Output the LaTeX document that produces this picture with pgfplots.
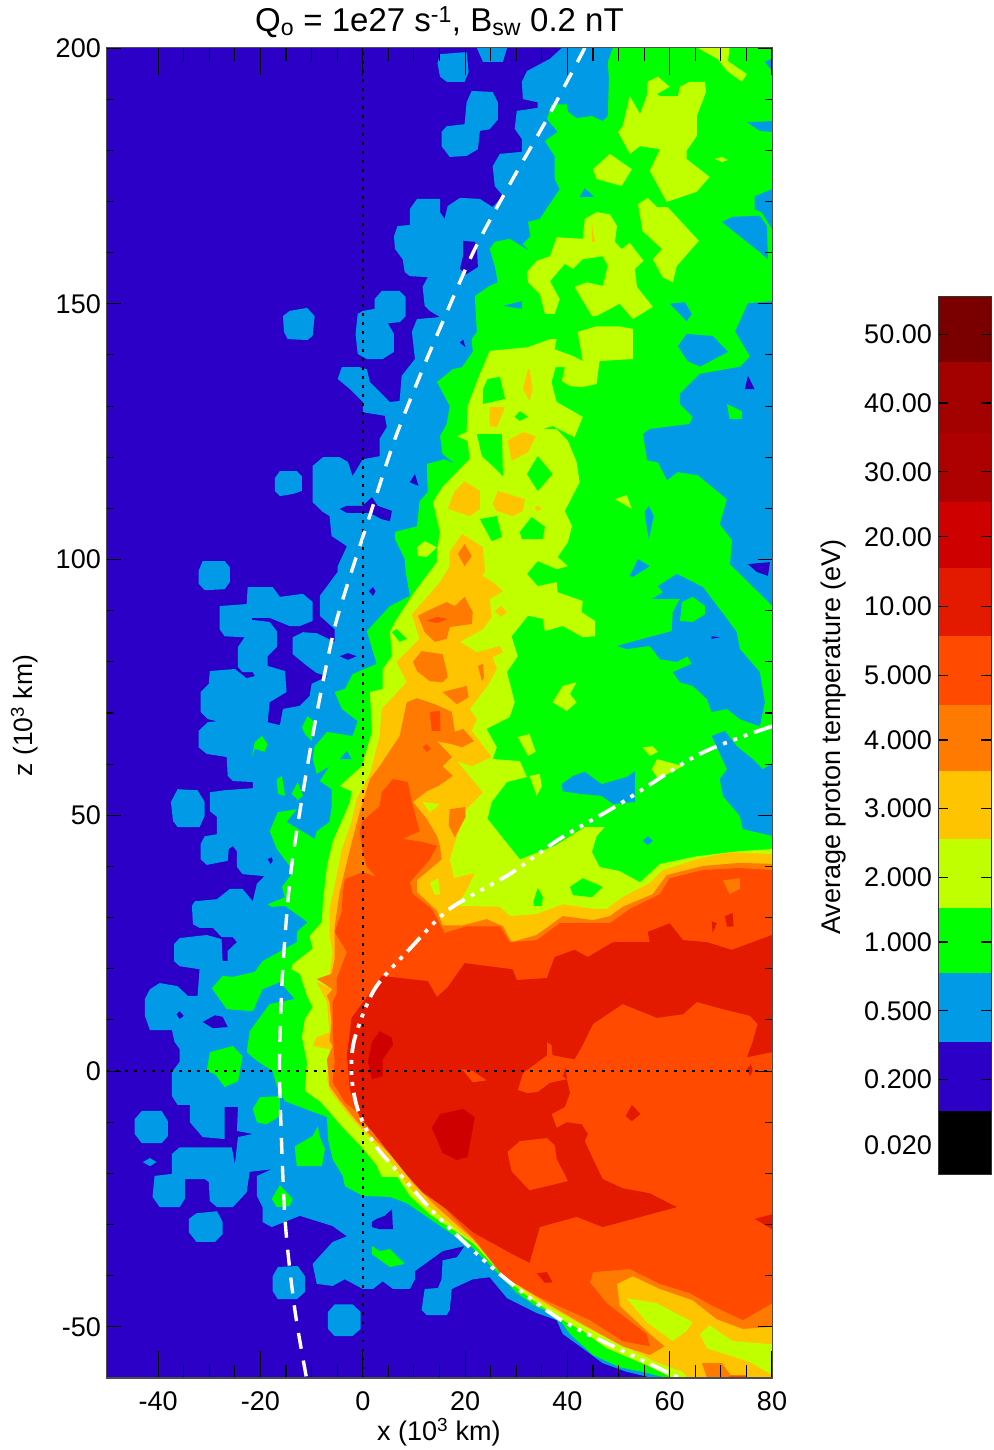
\documentclass[border=0pt]{standalone}
\usepackage{fontspec}
\setmainfont{Liberation Sans}
\usepackage{pgfplots}
\pgfplotsset{compat=1.18}
\definecolor{cP}{HTML}{2D00C8}
\definecolor{cB}{HTML}{009AE6}
\definecolor{cG}{HTML}{00FF00}
\definecolor{cY}{HTML}{BFFF00}
\definecolor{cA}{HTML}{FFC400}
\definecolor{cO}{HTML}{FF7A00}
\definecolor{cR}{HTML}{FF4A00}
\definecolor{cE}{HTML}{E31A00}
\definecolor{cD}{HTML}{CF0000}
\definecolor{cK}{HTML}{AD0000}
\definecolor{cL}{HTML}{A30000}
\definecolor{cM}{HTML}{7A0000}
\pgfplotsset{p/.style={fill=#1,draw=none,mark=none,forget plot,line width=0pt}}
\begin{document}
\fontsize{27}{32}\selectfont
\begin{tikzpicture}
\useasboundingbox (-107pt,-72pt) rectangle (886pt,1378pt);
\begin{axis}[name=main,scale only axis,width=665pt,height=1330pt,
 xmin=-50,xmax=80,ymin=-60,ymax=200,axis on top,
 xtick={-40,-20,0,20,40,60,80},minor x tick num=3,ytick=\empty,
 tick align=inside,xtick pos=both,major tick length=27pt,minor tick length=13pt,
 tick style={black,line width=1.1pt},axis line style={draw=black!70,line width=1pt},
 /pgf/number format/assume math mode=true,
 xticklabel style={font=\fontsize{27}{32}\selectfont,inner sep=0pt,yshift=-13pt},
 xlabel={x (10\textsuperscript{3} km)},
 every axis x label/.style={at={(axis description cs:0.499,-0.041)},anchor=center,font=\fontsize{27}{32}\selectfont},
 title={Q\textsubscript{o} = 1e27 s\textsuperscript{-1}, B\textsubscript{sw} 0.2 nT},
 every axis title/.style={at={(axis description cs:0.5,1.0195)},anchor=center,font=\fontsize{33}{38}\selectfont}]
% background level
\addplot[p=cP] coordinates {(-50,-60)(80,-60)(80,200)(-50,200)} --cycle;
% level 0.5
\addplot[p=cB] coordinates {(38.9,200)(36.6,197.9)(32.1,195.5)(31.1,193.4)(31.3,190)(34.2,189.4)(34.2,188.3)(30.1,187.7)(29.7,184.2)(31.1,182.2)(31.1,179.7)(26.8,179.3)(25.4,176.9)(25.8,173)(27.4,171.1)(25.4,168.9)(22.9,170.5)(19,170.7)(16.6,169.1)(16,166.6)(15.1,167.9)(15.1,170.5)(10.6,170.5)(9.2,168.5)(9.2,165.4)(6.8,165.2)(6.1,163.2)(6.3,160.7)(7.8,158.7)(8.2,156.2)(9.2,155.4)(12.7,155.2)(11.7,153.3)(12.1,149.6)(13.1,148.6)(15.1,147.4)(10.6,147)(9.6,144.5)(10.2,139.2)(7.6,135.9)(7.2,131)(5.3,130.8)(1.4,134.7)(0.8,137.2)(-0.6,137.6)(-4.1,137.6)(-4.9,135.3)(-2.5,133.3)(0,130.8)(0,128.8)(4.3,128.1)(4.7,125.9)(3.3,123.6)(3.3,120.2)(0,119.6)(-2,116.3)(-2.9,119.1)(-4.5,120)(-7.8,120)(-9.8,118.3)(-9.8,111.2)(-7.8,109.3)(-6.5,108.5)(-6.1,104.6)(-3.1,102.6)(-4.9,98.7)(-4.9,97.6)(-8.4,92.9)(-8.4,89)(-5.5,86.4)(-5.5,83.9)(-9,85.6)(-11.7,85.8)(-13.7,84.8)(-13.7,81.5)(-10.9,79.2)(-9,77.8)(-6.8,77.2)(-10,75.7)(-10.4,73.3)(-12.3,71.4)(-15.6,70.8)(-16.2,67.6)(-18.6,68.2)(-18.2,72.1)(-14.9,74.1)(-15.2,78.2)(-18.6,79.2)(-18.6,81.1)(-16.8,82.9)(-16.8,86)(-18.2,87.8)(-21.7,88.2)(-21.7,88.6)(-18.2,88.6)(-14.3,87)(-12.3,87)(-9.8,88)(-9.8,91.7)(-11.7,93.3)(-16.2,92.7)(-17.6,94.6)(-22.5,94.6)(-22.7,91.3)(-28,90.9)(-28,86.4)(-27,85)(-23.1,84.8)(-24.4,82.9)(-24.4,79)(-23.5,78)(-21.5,78)(-21.1,77.2)(-22.7,76.8)(-25,78.6)(-29.9,78.2)(-30.1,75.7)(-31.7,74.1)(-31.7,70.2)(-30.3,68.8)(-28.5,68.4)(-30.3,68.2)(-32.1,66.5)(-32.1,63.3)(-30.5,62)(-26.6,61.4)(-26.4,57.7)(-25.4,56.7)(-21.5,56.5)(-21.5,55.3)(-27,54.9)(-29.9,54.5)(-29.9,50.8)(-28.5,49.7)(-28.5,46.3)(-30.9,45.9)(-31.7,44.4)(-31.7,41.4)(-30.5,40.3)(-26.4,41.1)(-26.2,43.4)(-25.4,44)(-24.6,43)(-24.6,39.9)(-23.5,38.5)(-19.2,38.1)(-20.7,36.6)(-21.5,33.2)(-23.5,35.6)(-26,35.6)(-28.5,33.6)(-32.8,33.2)(-33.4,32.3)(-33.2,28.7)(-31.9,28)(-29.3,28)(-27.6,26.2)(-25.4,26.2)(-24.6,25.2)(-26.4,23.5)(-26.4,21.5)(-27.4,21.5)(-27.6,25.8)(-30.5,26.6)(-35.8,26)(-36.9,24.8)(-36.9,21.5)(-35.8,20.5)(-31.9,19.9)(-32.3,14.7)(-34.2,14.7)(-36.2,16.6)(-39.7,17.2)(-41.6,16)(-42.6,14.1)(-42.6,10.8)(-41.6,8)(-37.3,8)(-36.8,5.7)(-35.8,4.3)(-35.8,1.8)(-37.3,-0.2)(-37.3,-4.9)(-36.2,-6.6)(-33.8,-6.6)(-33.8,-10)(-31.3,-12.9)(-27,-13.3)(-27,-7)(-24.4,-7)(-24.6,-11.7)(-21.5,-12.3)(-24.4,-12.9)(-25,-18.2)(-25.6,-14.9)(-35.8,-14.9)(-37.3,-16.2)(-37.3,-20.1)(-40.7,-20.5)(-41.1,-24.6)(-39.7,-26.6)(-35.8,-26.6)(-34.8,-25)(-34.8,-21.1)(-30.9,-21.1)(-30.1,-21.7)(-29.9,-25.4)(-28.5,-26.6)(-25.4,-26.6)(-22.7,-23.7)(-22.1,-19.7)(-17.8,-19.2)(-20.7,-20.5)(-20.7,-24.4)(-19.6,-26.6)(-19.6,-29.5)(-17.8,-30.5)(-12.3,-28.3)(-5.9,-30.3)(-3.1,-32.3)(-5.9,-33.4)(-9.8,-37.7)(-9,-41.6)(-5.9,-42)(-3.5,-40.7)(0,-42.6)(2,-42.6)(3.9,-41.1)(5.9,-42.6)(9.2,-42.6)(10.2,-40.7)(10.2,-39.1)(15.6,-35.2)(19.9,-34.2)(18.4,-36.4)(15.6,-37)(15.4,-40.7)(14.7,-42.4)(12.1,-42.6)(11.5,-46.7)(12.5,-47.7)(16.4,-47.7)(17,-46.7)(17.4,-42.6)(21.5,-40.7)(24.8,-40.3)(28.2,-44.4)(34,-47.3)(37.9,-48.7)(39.1,-51.4)(43,-54.2)(46.9,-57.1)(51.6,-58.8)(56.7,-60)(80,-60)(80,200)} --cycle;
\addplot[p=cB] coordinates {(22.3,200)(28.2,200)(27.4,197.3)(23.5,197.3)} --cycle;
\addplot[p=cB] coordinates {(15.1,198.8)(20.3,199.2)(20.7,195.3)(19.9,193.4)(16.4,193.4)(15.1,194.4)(14.6,197)} --cycle;
\addplot[p=cB] coordinates {(21.3,191.6)(25.4,191.4)(26.4,189.4)(26.4,186)(24.8,184.1)(22.9,183.8)(22.5,180.2)(20.3,178.9)(17,178.7)(15.4,180.8)(15.4,183.6)(16.4,184.7)(19.9,185.1)(20.3,189.4)} --cycle;
\addplot[p=cB] coordinates {(-15.6,147.6)(-14.3,148.6)(-10.9,149.2)(-9.4,147.6)(-9.8,143.7)(-10.8,142.9)(-14.7,143.1)(-15.4,144.5)} --cycle;
\addplot[p=cB] coordinates {(2.3,150.9)(3.7,152.5)(7.2,152.5)(8.4,151.3)(8.4,147.6)(7.2,146.4)(4.9,146.2)(6.1,144.1)(6.1,140.6)(3.9,139.2)(0.8,139.2)(-1,140.2)(-1.4,144.1)(-1,148)(0,148.6)(2.3,149)} --cycle;
\addplot[p=cB] coordinates {(-16.2,117.3)(-12.9,117.3)(-11.9,116.3)(-11.9,113.4)(-13.7,112.8)(-16.2,112.4)(-17.2,113.4)(-17.2,115.9)} --cycle;
\addplot[p=cB] coordinates {(-32.1,97.8)(-31.3,99.7)(-27,99.7)(-26,98.5)(-26,95.6)(-27,94.2)(-30.9,94)(-32.1,95.3)} --cycle;
\addplot[p=cB] coordinates {(-36.2,55.1)(-32.3,54.9)(-30.9,52.6)(-30.9,49.9)(-31.9,47.7)(-36.2,47.7)(-37.1,48.9)(-37.5,52.6)} --cycle;
\addplot[p=cB] coordinates {(-44.6,-9.4)(-43.2,-7.8)(-39.3,-7.8)(-38.1,-9.8)(-38.1,-12.7)(-39.3,-14.1)(-43.2,-14.1)(-44.6,-12.3)} --cycle;
\addplot[p=cB] coordinates {(-43,-17.8)(-41.6,-17)(-40.3,-17.8)(-41.6,-18.6)} --cycle;
\addplot[p=cB] coordinates {(-34,-28.9)(-32.5,-27.8)(-28.5,-27.4)(-27.4,-29.5)(-27.4,-31.9)(-28.9,-33.4)(-32.5,-33.4)(-34,-31.5)} --cycle;
\addplot[p=cB] coordinates {(-17.6,-40.1)(-16.6,-38.3)(-12.7,-38.1)(-11.3,-40.1)(-11.3,-43.2)(-12.9,-44.6)(-16.6,-44.6)(-17.6,-43)} --cycle;
\addplot[p=cB] coordinates {(-6.8,-47.1)(-5.5,-45.6)(-2,-45.6)(-0.4,-47.1)(-0.4,-50.4)(-2,-51.8)(-5.5,-51.8)(-6.8,-50.4)} --cycle;
% holes of the background level
\addplot[p=cP] coordinates {(19.6,162.3)(21.9,162.1)(22.3,161.3)(22.5,157.2)(20.3,155.8)(19,156.8)(19.6,159.3)} --cycle;
\addplot[p=cP] coordinates {(-4.5,109.9)(-3.1,110.5)(0,110.5)(1.8,112.2)(2.9,110.5)(5.7,109.5)(5.3,107.5)(3.7,107.9)(1.4,109.1)(-3.1,109.1)} --cycle;
\addplot[p=cP] coordinates {(10.2,116.7)(10.9,114.4)(9.2,115.1)} --cycle;
\addplot[p=cP] coordinates {(-4.5,81.1)(-2.9,81.7)(-1.2,81.1)(-2.9,80.4)} --cycle;
\addplot[p=cP] coordinates {(1.2,93.8)(2,94.6)(2.5,93.8)(2,92.9)} --cycle;
\addplot[p=cP] coordinates {(-31.3,9.6)(-28.9,10.9)(-27.4,10.6)(-26.4,8.6)(-29.3,8.4)} --cycle;
\addplot[p=cP] coordinates {(-36.4,11.1)(-35.8,11.7)(-35,10.8)(-35.8,10.2)} --cycle;
\addplot[p=cP] coordinates {(-18.6,41.4)(-17.8,41.8)(-17.6,41.1)(-18,40.5)} --cycle;
\addplot[p=cP] coordinates {(1.8,-29.5)(2.7,-28.9)(4.3,-28.3)(5.7,-27)(5.9,-30.9)(3.3,-30.9)(1.8,-30.5)} --cycle;
\addplot[p=cP] coordinates {(19,142.4)(19.6,143)(20.1,141.5)} --cycle;
% level 1
\addplot[p=cG] coordinates {(48.9,200)(47.9,197.3)(48.1,193.9)(47.9,186.7)(46.9,185.7)(44.8,186.7)(41.8,186.3)(40.1,187.5)(39.9,189)(36.9,189)(36,186.1)(38.1,183.6)(35.6,181.8)(37.5,178.9)(37.5,174.4)(38.5,172.4)(34.6,166.6)(32.3,166)(32.8,163.2)(31.3,161.7)(32.6,160.3)(28.7,162.7)(25.8,162.1)(24.8,160.7)(25.8,157.4)(26.4,154.2)(24.8,153.5)(21.9,151.5)(22.3,144.5)(21.3,143.1)(21.5,140.6)(19.4,137.6)(17.6,137.2)(14.5,134.7)(17,130)(16.4,126.5)(15.1,124.1)(15.6,120.6)(18,118.7)(16,119.6)(12.5,118.7)(12.7,113.2)(11.1,111.4)(10.6,106.5)(6.3,105.4)(6.3,104)(8.2,100.1)(8.4,97.6)(9.2,92.9)(5.3,90.9)(0.8,86)(2.7,79.6)(-2,77.6)(-3.5,74.7)(-5.5,74.1)(-4.1,70.8)(-1,68.4)(-2,65.5)(-7,66.3)(-9.4,63.5)(-9.8,61)(-9,58.1)(-6.5,59.6)(-8.4,56.7)(-6.1,55.1)(-6.1,51.8)(-6.5,48.7)(-9,46.9)(-9.4,45.4)(-14.9,48.7)(-12.9,51.2)(-16.6,50.6)(-18.2,46.9)(-16.8,43.4)(-14.3,40.1)(-13.9,38.5)(-15.8,36)(-15.2,34)(-18.6,32.6)(-17.8,32.1)(-15.2,32.3)(-10.8,29.1)(-12.9,27.2)(-12.9,25.2)(-19.6,21.5)(-21.1,19.4)(-25.4,18.4)(-27.4,18.6)(-29.5,16.2)(-26.6,12.1)(-21.5,11.7)(-19.6,16)(-16.2,17.4)(-13.3,14.1)(-18.2,13.1)(-22.1,7.8)(-22.7,3.7)(-20.7,2)(-17.6,0)(-16.8,-3.1)(-15.2,-5.9)(-7,-9)(-6.8,-13.3)(-5.9,-17.2)(-3.9,-20.5)(-3.5,-22.5)(0,-24.4)(5.3,-24.6)(8.6,-25.8)(13.1,-28.9)(21.5,-34.6)(26.2,-39.3)(30.1,-43.4)(34,-46.1)(37.9,-47.7)(40.5,-51.4)(45,-55.5)(50.2,-57.9)(54.7,-58.8)(59.4,-60)(80,-60)(80,200)} --cycle;
\addplot[p=cG] coordinates {(-30.5,0)(-29.9,3.7)(-25.4,4.9)(-23.5,2.9)(-24.4,-2)(-27,-3.1)(-28.9,-0.6)} --cycle;
\addplot[p=cG] coordinates {(-21.5,-7.4)(-20.1,-5.1)(-16.2,-4.9)(-16.2,-8.8)(-18.8,-10.4)(-20.7,-10)} --cycle;
\addplot[p=cG] coordinates {(-13.3,-14.7)(-9.8,-12.7)(-8.8,-10.8)(-8.4,-12.9)(-7.4,-15.2)(-8,-18.6)(-12.9,-18.6)} --cycle;
\addplot[p=cG] coordinates {(-17.8,-25)(-16.2,-22.3)(-13.7,-25)(-14.3,-26.4)(-16.8,-26.6)} --cycle;
\addplot[p=cG] coordinates {(1.8,-34.2)(3.3,-35.2)(5.3,-34.8)(8.2,-37.7)(5.3,-38.3)(1.8,-35.8)} --cycle;
\addplot[p=cG] coordinates {(-21.7,61.4)(-21.1,64.3)(-19.7,65.5)(-18.6,63.9)(-19.2,62.4)(-21.1,63)} --cycle;
\addplot[p=cG] coordinates {(-11.9,67.2)(-10.8,69.4)(-9.4,68.2)(-10,64.5)(-11.3,65.9)} --cycle;
\addplot[p=cG] coordinates {(-16.8,57.1)(-15.8,57.7)(-15.2,53.8)(-16.6,54.2)} --cycle;
\addplot[p=cG] coordinates {(-13.9,54.2)(-12.7,56.5)(-11.7,53.8)(-12.7,53)} --cycle;
% level 0.5 inside level 1
\addplot[p=cB] coordinates {(80,150.5)(75.3,150.1)(72.8,144.6)(75.7,139.7)(73.8,137.7)(65.9,136.3)(62,132.4)(62,130.4)(64.5,127.9)(63.9,126.5)(56.1,125.5)(54.8,124.5)(55.6,119.4)(57.7,119)(59.5,115.5)(61.5,117.1)(65.5,116.5)(71.2,111.8)(69.8,106.9)(72.2,103.8)(71.8,99.1)(80,91)} --cycle;
\addplot[p=cB] coordinates {(66.5,94.6)(61.4,97.2)(57.7,94.8)(58.7,93.6)(56.5,92.3)(62,92.3)(60.6,89.7)(60.4,86)(54.7,84.5)(49.7,83.1)(51.6,82.5)(56.1,83.1)(58.1,80.5)(61.4,80)(63.5,81.1)(64.3,79.6)(60.6,78)(62,76)(64.5,75.3)(67.3,72.7)(68.2,70.2)(71.2,70.8)(73.7,68.8)(77.6,67.4)(78.6,72.1)(77.6,78)(73.7,82.5)(73.1,85.8)(71.2,88.4)} --cycle;
\addplot[p=cB] coordinates {(68.2,65.5)(70.8,66.5)(73.1,63.5)(76.2,61)(78.2,59)(80,60)(80,46)(74.3,47.3)(73.7,49.9)(70.4,53.8)(69.8,57.1)(71.2,59)} --cycle;
\addplot[p=cB] coordinates {(75.1,185.5)(80,185.7)(80,183.6)(77.6,183.8)} --cycle;
\addplot[p=cB] coordinates {(76.6,171)(80,172.4)(80,164.6)(78,167.9)(76.6,168.5)} --cycle;
\addplot[p=cB] coordinates {(70.2,166)(72.3,167)(77.6,167.2)(79,165.2)(79.2,158.7)(77.6,160.1)(73.7,163.2)} --cycle;
\addplot[p=cB] coordinates {(78.6,197.3)(80,197.9)(80,195.5)} --cycle;
\addplot[p=cB] coordinates {(61.6,141.7)(63.3,144.1)(68.4,143.7)(71.4,140.6)(65.9,137.7)(63.5,138.8)} --cycle;
\addplot[p=cB] coordinates {(60,150)(63,150.3)(64.3,148)(63.3,146.6)(61.4,148.6)} --cycle;
\addplot[p=cB] coordinates {(27.4,149.6)(31.1,150.5)(31.1,149)} --cycle;
\addplot[p=cB] coordinates {(42.4,170.9)(43.4,172.6)(45.2,170.9)} --cycle;
\addplot[p=cB] coordinates {(52.2,96.8)(53.8,100.1)(56.1,98.7)(52.8,96.6)} --cycle;
\addplot[p=cB] coordinates {(55.1,109.3)(55.9,110.5)(56.9,108.5)(55.9,104)(55.5,106.5)} --cycle;
\addplot[p=cB] coordinates {(38.9,56.1)(41.1,57.7)(43.4,58.5)(46.7,56.1)(51.6,57.5)(53.2,58.6)(53.2,52.6)(48.9,52.2)(46.7,53.8)(42.4,54.2)(39.1,54.7)} --cycle;
\addplot[p=cB] coordinates {(54.7,45)(55.7,45.9)(56.7,45)(55.7,44.2)} --cycle;
\addplot[p=cB] coordinates {(-4.5,61)(-3.1,62.6)(-2.2,61)} --cycle;
\addplot[p=cG] coordinates {(62.4,91.7)(64.5,92.7)(66.9,90.9)(66.9,89.3)(64.5,87.8)(62,88)} --cycle;
\addplot[p=cG] coordinates {(71.2,130.4)(74.1,129)(74.1,127.5)(71.7,127.5)} --cycle;
\addplot[p=cP] coordinates {(74.7,133.3)(75.3,135.9)(76.6,133.3)} --cycle;
\addplot[p=cP] coordinates {(75.3,99.1)(79.6,99.5)(79.2,96.8)(77,97.6)} --cycle;
\addplot[p=cP] coordinates {(68.2,85)(69.8,84.8)(68.2,84.5)} --cycle;
% level 2
\addplot[p=cY] coordinates {(22.5,135.3)(24.8,140.8)(32.3,141.5)(36.6,143.1)(37.9,143.1)(37.5,141.1)(41.1,139.8)(43,138.8)(42,144.5)(45.7,145.6)(49.9,145.6)(52.8,145.1)(52.8,139.2)(46.3,138.8)(45.7,134.3)(42.8,133.7)(40.5,133.9)(38.9,134.9)(39.5,137.6)(37.7,137.6)(36.9,134.7)(37.9,130.8)(43,127.9)(41.4,123.9)(37.1,126.1)(35.2,125.5)(37.9,125.5)(40.1,123.2)(41.8,119.1)(42.4,115.1)(39.5,109.5)(40.9,106.5)(40.1,103.4)(38.1,100.5)(40.1,98.7)(37.9,98.1)(34.2,99.7)(32.1,97.2)(34.2,94.8)(37.9,95.6)(38.1,93.6)(43,91.9)(42.8,89.7)(45.4,88)(45.4,85)(43,84.8)(39.1,87)(35.6,86)(35.2,88.4)(32.3,89)(29.1,85)(30.3,81.1)(28.2,78)(29.7,72.1)(28.7,69.2)(24.2,66.9)(26.2,63.3)(25.4,61)(30.7,60.6)(32.1,57.5)(28.2,56.5)(25.2,52.6)(24.4,49.3)(30.7,41.4)(37.5,44)(43.4,47.7)(47.3,47.7)(45.7,45.9)(44.8,42.8)(46.3,39.9)(50.2,39.1)(54.2,36.9)(58.1,40.5)(65.3,42)(73.7,43)(80,43.4)(80,-60)(60.6,-60)(55.5,-57.5)(47.7,-54.2)(43,-50.8)(39.1,-48.7)(34,-45.4)(30.1,-42.4)(26.2,-38.7)(21.5,-33.6)(13.1,-28)(9.2,-24.4)(6.8,-20.7)(3.7,-20.7)(2.7,-18.4)(0,-15.1)(-4.5,-10.4)(-6.5,-8)(-8.4,-5.9)(-11.3,-3.9)(-10.9,1.8)(-11.9,6.6)(-11.3,10.2)(-9.8,12.5)(-10.9,14.7)(-12.3,19)(-13.9,19.9)(-13.7,20.9)(-9.8,23.9)(-10.4,26.4)(-8,29.1)(-7.8,33)(-7,40.1)(-5.9,44.8)(-2.5,52.6)(-2.2,54.7)(-4.5,55.7)(-0.2,59.6)(1.8,66.3)(1.4,74.1)(3.9,74.7)(3.9,78.6)(5.7,81.1)(5.3,85.8)(6.3,87.8)(9.6,92.9)(11.7,95.8)(14.5,99.5)(14.5,101.7)(15.1,105.4)(14.5,107.9)(13.7,111.2)(15.6,114.2)(18.6,117.3)(20.9,119.6)(20.5,123.2)(18.4,124.1)(20.3,124.9)(20.5,130)} --cycle;
\addplot[p=cY] coordinates {(65.5,200)(71.7,200)(71.4,197.4)(75.1,194.9)(74.1,193.4)(71.2,195.5)(69.4,197.8)} --cycle;
\addplot[p=cY] coordinates {(55.7,193.4)(57.7,194.4)(60,192.4)(57.5,191)(58.1,190.6)(61.6,190.6)(62,192.4)(63.9,193.4)(66.9,193.4)(67.1,191.4)(65.3,186.7)(65.3,182.8)(63.3,179.9)(63.3,178.3)(67.8,174.8)(65.3,171.9)(59.4,169.9)(56.1,176)(58.1,180.2)(54.2,180.8)(52.2,179.3)(49.9,183.6)(50.8,184.7)(52.2,190.6)(54.2,187.1)(55.5,190.6)} --cycle;
\addplot[p=cY] coordinates {(45,176.3)(48.3,179.3)(52.6,176.3)(50.6,173)(45.7,174.4)} --cycle;
\addplot[p=cY] coordinates {(53.8,169.5)(55.7,170.7)(57.5,168.9)(59.6,168.9)(65.7,162.3)(61.4,157.4)(60.6,154.2)(58.6,155.2)(56.7,158.7)(58.5,160.7)(54.7,164.2)} --cycle;
\addplot[p=cY] coordinates {(68.8,178.3)(70.2,178.7)(71.4,178.1)(70.2,177.7)} --cycle;
\addplot[p=cY] coordinates {(32.1,156.2)(34,158.4)(36.6,159.3)(37.9,163)(43,162.7)(43.4,166.6)(45.7,167.9)(48.3,167.5)(49.7,165.2)(49.3,162.1)(50.6,160.7)(52.2,161.9)(54.9,158.4)(53.2,156.8)(53.6,153.3)(56.7,149.4)(52.8,147)(50.2,150)(45.7,147.6)(44.8,147.6)(41.4,153.3)(43.8,154.2)(46.9,153.5)(47.9,157.4)(46.9,159.3)(43,158.7)(41.1,156.8)(39.5,157.8)(36.6,154.4)(38.5,150.9)(37.5,148)(35.6,148)(34.6,151.9)(32.3,154.2)} --cycle;
\addplot[p=cY] coordinates {(10.6,102.4)(12.1,103.6)(14.5,102.4)(12.5,100.5)(10.8,100.7)} --cycle;
\addplot[p=cY] coordinates {(49.3,111.8)(51.6,112.6)(52.6,109.9)} --cycle;
\addplot[p=cY] coordinates {(37.1,72.1)(39.1,75.3)(41.8,76)(40.5,73.7)(41.8,72.1)(39.9,70.4)} --cycle;
\addplot[p=cY] coordinates {(30.3,65.3)(32.6,65.9)(33.8,62.4)(32.3,61.6)} --cycle;
\addplot[p=cY] coordinates {(32.6,57.7)(34.6,58.1)(35,55.7)(34,53.8)} --cycle;
\addplot[p=cY] coordinates {(54.7,63.3)(56.7,63.5)(57.7,62.4)(56.1,61.6)} --cycle;
\addplot[p=cY] coordinates {(56.5,59)(57.5,61)(62.6,59.6)(57.7,57.1)} --cycle;
% level 1 inside level 2
\addplot[p=cG] coordinates {(23.5,133.3)(24.4,135.3)(26.8,135.7)(27.8,131.4)(23.5,130.4)} --cycle;
\addplot[p=cG] coordinates {(22.3,124.5)(27.2,124.5)(27.4,116.3)(25.4,118.3)(23.3,120.2)} --cycle;
\addplot[p=cG] coordinates {(29.7,127.9)(30.7,129)(32.3,127.9)(30.7,127.1)} --cycle;
\addplot[p=cG] coordinates {(32.1,116.7)(34.2,120.2)(37.1,116.7)(34.2,113.4)} --cycle;
\addplot[p=cG] coordinates {(22.9,107.9)(26.2,108.5)(27.2,104.4)(25.2,103.6)} --cycle;
\addplot[p=cG] coordinates {(30.7,105.4)(33,108.3)(35.6,106.4)(35.2,104)(31.1,104)} --cycle;
\addplot[p=cG] coordinates {(5.7,85.8)(6.6,86.4)(8.6,84.5)(7.2,83.9)} --cycle;
\addplot[p=cG] coordinates {(40.5,36)(43,37.7)(46.9,36)(44.8,34)(41.1,34.4)} --cycle;
\addplot[p=cG] coordinates {(33.4,33.2)(34.2,35.8)(35.2,34)(35,32.3)(33.4,32.3)} --cycle;
% level 3
\addplot[p=cA] coordinates {(19.4,105)(23.5,102.4)(23.9,97.6)(23.3,96.8)(25.4,95.6)(27.4,93.8)(24.8,92.3)(25.2,88.8)(23.5,86.4)(19,83.9)(22.3,81.9)(26.8,83.1)(27.4,81.9)(25.4,80.9)(26.2,78.6)(24.4,75.3)(20.9,70.8)(22.3,68.8)(21.3,66.5)(25.2,61.4)(21.3,59.6)(18.4,60.6)(23.5,54.5)(20.3,51.2)(18.4,45.9)(17,41.4)(17.8,37.7)(21.9,38.7)(20.3,35.4)(18.4,32.3)(26.8,32.1)(28.7,30.3)(34,30.7)(39.1,32.6)(45,31.7)(47.7,31.7)(50.8,34)(56.1,36.8)(58.7,39.3)(65.3,41.4)(71.7,42.8)(80,42.4)(80,-60)(63.5,-60)(62.6,-58.8)(57.5,-56.9)(48.9,-52.8)(43,-49.7)(35.2,-45.4)(29.3,-41.3)(22.3,-34)(13.1,-26.6)(9.2,-22.9)(6.6,-19.2)(2,-13.7)(-2.5,-9)(-6.5,-3.7)(-7,-1.6)(-6.5,1.8)(-6.5,4.3)(-9.8,4.9)(-9,6.6)(-6.5,7.6)(-7,13.5)(-9,17.4)(-6.8,16.4)(-5.9,23.3)(-6.5,26.4)(-6.5,31.7)(-5.1,38.1)(-4.1,43.4)(-2.2,48.7)(-1.2,53.2)(1.4,58.1)(3.3,65.5)(3.7,70.8)(8.6,76)(6.6,80)(11.1,84.5)(9.6,89.3)(11.7,91.7)(15.1,95.6)(17,98.7)(17,101.5)} --cycle;
\addplot[p=cA] coordinates {(24.8,129.8)(27.8,129.8)(26.2,125.9)(24.8,126.1)} --cycle;
\addplot[p=cA] coordinates {(28.3,123.2)(31.3,124.9)(33.8,124.1)(32.3,121)(29.1,119.3)} --cycle;
\addplot[p=cA] coordinates {(32.3,137.2)(31.3,133.3)(32.6,131)(33.2,133.3)(32.6,137.2)} --cycle;
\addplot[p=cA] coordinates {(16.6,109.9)(18,113.4)(19.9,115.3)(22.9,113.4)(22.9,109.9)(20.9,108.5)} --cycle;
\addplot[p=cA] coordinates {(25.4,110.8)(26.4,113.4)(31.7,111.8)(31.3,109.5)(29.3,108.5)(26.2,109.5)} --cycle;
\addplot[p=cA] coordinates {(25.8,89.9)(27,90.9)(28.2,89.7)(27,88.8)} --cycle;
\addplot[p=cA] coordinates {(33.6,110.3)(34.2,110.5)(35,109.9)(34,109.5)} --cycle;
\addplot[p=cA] coordinates {(44.8,165.7)(45.4,162.1)(44.8,162.1)} --cycle;
% level 2 inside level 3
\addplot[p=cY] coordinates {(13.1,36.8)(14.7,37.7)(15.1,34.6)(14.1,34.4)} --cycle;
\addplot[p=cY] coordinates {(11.7,52.6)(15.1,52.2)(13.1,50.6)} --cycle;
\addplot[p=cY] coordinates {(51.6,-44.4)(57.5,-45.4)(64.5,-49.1)(63.3,-50.8)(60.6,-52.8)(55.5,-49.1)} --cycle;
\addplot[p=cY] coordinates {(65.9,-51.4)(67.8,-49.7)(72.3,-52.8)(80,-53.4)(80,-59.4)(75.7,-56.9)(67.3,-54.2)} --cycle;
% level 4
\addplot[p=cO] coordinates {(15.4,41.4)(10.6,37.3)(10.6,35)(14.5,31.3)(15.6,28.5)(19.6,28.5)(24.2,29.7)(27.4,28.3)(29.1,25.2)(34,26.6)(39.1,30.3)(45,29.5)(48.3,30.3)(50.8,32.1)(56.7,34.6)(59.4,38.3)(66.5,40.1)(73.7,40.7)(80,40.5)(80,-50)(74.3,-50.4)(69.2,-48.5)(64.5,-44.8)(58.1,-42.6)(52.8,-40.1)(49.7,-41.6)(50.2,-45.9)(56.1,-51.4)(59,-53.8)(56.1,-55.5)(50.8,-53.8)(43,-49.5)(36,-45.4)(30.1,-41.6)(22.9,-34)(14.5,-26.6)(9.8,-21.9)(6.6,-17.4)(2,-13.1)(-1.2,-9.8)(-4.5,-5.7)(-6.5,-2.9)(-7,2.3)(-5.9,4.9)(-6.5,5.9)(-6.1,9.6)(-6.5,13.5)(-7,14.7)(-5.9,16)(-9,18)(-6.1,19)(-5.5,21.9)(-5.5,28.3)(-4.5,35)(-2.5,43.4)(-0.6,50.6)(1.4,57.1)(3.3,59.6)(7.2,65.5)(8.6,72.1)(10.6,72.9)(14.1,71.7)(17.4,70.2)(18,66.3)(19.6,66.9)(21.7,64.5)(19.4,63.3)(17.4,63.9)(14.5,64.5)(17.4,61.4)(15.6,59.6)(17.6,57.7)(14.7,55.7)(12.5,54.7)(9.8,52.6)(12.5,49.3)(14.5,45.9)(15.1,44)} --cycle;
\addplot[p=cO] coordinates {(10.8,89)(12.5,89.9)(16.4,91.7)(18,90.9)(19.9,92.7)(21.5,89.7)(21.3,87.4)(17,86.8)(16.4,84.5)(14.1,83.9)(12.1,85.8)} --cycle;
\addplot[p=cO] coordinates {(9.8,80)(11.5,82.1)(15.6,81.5)(16.4,78.2)(16.6,77)(15.6,76)(13.1,76.2)(10.6,78.2)} --cycle;
\addplot[p=cO] coordinates {(15.6,74.1)(20.3,75.3)(20.7,73.1)(18.4,71.7)} --cycle;
\addplot[p=cO] coordinates {(18.6,101.1)(19.9,103)(21.3,100.7)(19.9,98.7)} --cycle;
\addplot[p=cO] coordinates {(22.5,79.2)(23.5,79.6)(23.7,77)(23.3,76.2)} --cycle;
\addplot[p=cO] coordinates {(66.3,-57.1)(70.2,-57.1)(72.3,-60)(67.3,-60)} --cycle;
\addplot[p=cO] coordinates {(17,51.2)(20,51.6)(20.1,49.7)(18,45.7)(16.8,48)} --cycle;
% level 5
\addplot[p=cR] coordinates {(-0.2,48.7)(3.3,51.8)(3.7,54.5)(5.9,57.1)(8.8,56.5)(9.6,52.6)(11.1,46.9)(7.8,45.4)(11.7,44.8)(14.5,44)(13.1,41.4)(9.2,36.9)(9.8,34.6)(13.5,31.7)(16,27)(20.3,28.3)(26.8,28.3)(28.7,25.2)(34,25.6)(38.5,28.9)(45,28.9)(48.3,28.9)(52.2,31.7)(58.1,34.6)(60,37.7)(66.5,39.3)(73.7,39.7)(80,39.3)(80,-45.4)(74.3,-48.7)(68.4,-45.9)(63.9,-43.4)(58.1,-41.6)(52.2,-38.7)(45,-39.3)(44.4,-41.3)(47.7,-45.4)(55.5,-51.4)(56.1,-53.8)(50.8,-52.8)(44.4,-48.7)(34,-44)(27.4,-40.1)(21.5,-32.6)(15.1,-25.8)(9.8,-20.5)(7.6,-16.8)(2.7,-12.3)(-0.6,-8.4)(-3.5,-6.1)(-5.9,-2.2)(-5.5,1.8)(-5.9,8.2)(-5.9,13.5)(-5.1,15.1)(-5.1,18)(-3.1,23.3)(-5.5,27.2)(-4.1,31.1)(-3.9,35)(-3.5,37.5)(0,38.9)(2.7,37.9)(0.8,39.9)(0,42.8)(-0.6,46.7)} --cycle;
\addplot[p=cR] coordinates {(12.5,88)(14.5,88.8)(16.6,88.4)(14.5,87.6)} --cycle;
\addplot[p=cR] coordinates {(13.1,70.2)(15.1,70.4)(15.2,66.5)(13.5,66.5)} --cycle;
\addplot[p=cR] coordinates {(11.7,63.3)(12.5,63.9)(13.3,63)(12.5,62.4)} --cycle;
\addplot[p=cR] coordinates {(72,-59.5)(75,-59.5)(75,-60)(71,-60)} --cycle;
\addplot[p=cO] coordinates {(70.4,37.3)(73.7,37.7)(73.7,35.6)(71.7,34.6)} --cycle;
% level 10
\addplot[p=cE] coordinates {(-3.1,3.1)(-2.2,10.4)(0.4,13.9)(3.7,18.6)(12.7,17.6)(14.5,14.5)(16.6,16.4)(19.9,21.1)(29.3,19.9)(30.1,17.8)(36,18.2)(37.5,22.3)(41.4,23.7)(44,22.3)(48.9,25.2)(56.1,25.2)(55.7,27.2)(60,28.9)(62.6,25.6)(67.3,25.2)(72.1,23.7)(80,26.6)(80,3.7)(75.1,2.7)(76.2,5.7)(77.2,9.2)(75.7,10.8)(70.4,12.1)(65.3,13.5)(62.6,11.1)(57.5,10.4)(50.8,13.1)(45,9.2)(43,5.1)(41.4,2.3)(37.1,3.1)(36.9,5.1)(36,5.7)(36,3.1)(31.3,-0.4)(30.3,-3.7)(32.1,-4.3)(34.2,-4.1)(36.6,-2.3)(39.9,-1.6)(40.5,-4.3)(39.5,-7)(36.9,-8.4)(37.9,-11.1)(39.9,-10)(42.8,-10.4)(44,-12.3)(43.4,-13.7)(45,-17.2)(46.9,-21.1)(50.8,-22.9)(56.1,-23.9)(61.4,-26.6)(46.9,-30.5)(41.8,-28.5)(34.6,-30.5)(32.6,-37.5)(28.7,-35.5)(21.5,-31.5)(16.4,-27)(11.7,-23.7)(8.6,-20.3)(5.3,-16.2)(2,-12)(-0.6,-9)(-2.5,-3.7)} --cycle;
\addplot[p=cR] coordinates {(28.3,-15.8)(30.7,-13.7)(36,-13.1)(37.5,-14.5)(37.9,-17.2)(40.1,-21.5)(32.6,-23.3)(29.1,-19.6)} --cycle;
\addplot[p=cR] coordinates {(19.4,0.4)(21.5,0)(24.2,-1.8)(21.5,-2.2)} --cycle;
\addplot[p=cE] coordinates {(51.4,-8.8)(52.6,-6.6)(54.3,-8.4)(52.6,-9.8)} --cycle;
\addplot[p=cE] coordinates {(76.6,-28.9)(80,-28)(80,-30.9)} --cycle;
\addplot[p=cE] coordinates {(34,-39.5)(36,-39.3)(37.1,-41.3)(35.6,-41.4)} --cycle;
\addplot[p=cE] coordinates {(70.8,30.3)(72.3,30.9)(72.5,28.3)(71.2,28.2)} --cycle;
\addplot[p=cE] coordinates {(68.2,29.3)(69.2,28.9)(68.4,27)} --cycle;
\addplot[p=cE] coordinates {(75.1,0.4)(75.9,1.4)(76.2,0)(75.7,-1)} --cycle;
\addplot[p=cE] coordinates {(39.1,-1)(39.7,0.8)(39.9,-1.6)} --cycle;
% level 20
\addplot[p=cD] coordinates {(1,1.8)(1.8,5.7)(3.3,7.8)(5.7,6.5)(5.9,5.1)(3.9,2.3)(3.9,-1)(1.8,-1.6)} --cycle;
\addplot[p=cD] coordinates {(13.5,-11.1)(15.1,-8.4)(19.6,-7.4)(21.9,-9)(20.5,-16.8)(18.4,-17.4)(15.6,-16)} --cycle;
% reference lines
\addplot[black,line width=1.6pt,dash pattern=on 2.5pt off 6.5pt,mark=none,forget plot] coordinates {(0,-60)(0,200)};
\addplot[black,line width=1.6pt,dash pattern=on 2.5pt off 6.5pt,mark=none,forget plot] coordinates {(-50,0)(80,0)};
% curves
\addplot[white,line width=3.4pt,smooth,mark=none,forget plot,dash pattern=on 16pt off 12pt] coordinates {(43.4,200)(36,186.1)(29.1,174)(21.9,160.7)(15.6,146.4)(11.7,137.2)(6.3,123.6)(1.8,109.9)(-3.1,94.8)(-5.9,85)(-9.8,65.5)(-13.9,40.1)(-15.6,20.5)(-16.2,5.7)(-16.2,-4.1)(-15.2,-28.9)(-13.3,-46.5)(-11,-60)};
\addplot[white,line width=3.8pt,smooth,mark=none,forget plot,dash pattern=on 19pt off 7pt on 4pt off 7pt on 4pt off 7pt on 4pt off 7pt] coordinates {(80,67.4)(65.9,62)(50.2,52.2)(38.5,45.4)(28.7,38.5)(17,31.7)(9.2,23.9)(2.3,16)(-1.6,6.3)(-2.2,-0.6)(-1,-7.4)(2.3,-14.3)(7.2,-20.1)(15.1,-28.9)(26.8,-39.7)(38.5,-48.5)(50.2,-54.4)(61.9,-60)};
\end{axis}
\begin{axis}[scale only axis,width=665pt,height=1330pt,
 xmin=-50,xmax=80,ymin=-60,ymax=200,xtick=\empty,
 ytick={-50,0,50,100,150,200},yticklabels={-50,0,50,100,150,\raisebox{-7pt}{200}},minor y tick num=4,
 tick align=inside,ytick pos=both,major tick length=14pt,minor tick length=7pt,
 tick style={black,line width=1.1pt},axis line style={draw=black!70,line width=1pt},
 yticklabel style={font=\fontsize{27}{32}\selectfont,inner sep=0pt,xshift=-6pt},
 ylabel={z (10\textsuperscript{3} km)},
 every axis y label/.style={at={(axis description cs:-0.124,0.498)},rotate=90,anchor=center,font=\fontsize{26.5}{31}\selectfont}]
\end{axis}
\begin{axis}[at={(831pt,203pt)},anchor=south west,scale only axis,width=53pt,height=878pt,
 xmin=0,xmax=1,ymin=0,ymax=13,xtick=\empty,axis on top,
 ytick={0.444,1.42,2.43,3.45,4.41,5.43,6.44,7.40,8.42,9.45,10.41,11.43,12.45},
 yticklabels={0.020,0.200,0.500,1.000,2.000,3.000,4.000,5.000,10.00,20.00,30.00,40.00,50.00},
 tick align=inside,ytick pos=both,major tick length=10pt,
 tick style={black,line width=1.1pt},axis line style={draw=black!80,line width=1pt},
 yticklabel style={font=\fontsize{27}{32}\selectfont,inner sep=0pt,xshift=-6pt},
 ylabel={Average proton temperature (eV)},
 every axis y label/.style={at={(axis description cs:-1.98,0.499)},rotate=90,anchor=center,font=\fontsize{27}{32}\selectfont}]
\addplot[p=black] coordinates {(0,0)(1,0)(1,0.95)(0,0.95)} --cycle;
\addplot[p=cP] coordinates {(0,0.95)(1,0.95)(1,1.97)(0,1.97)} --cycle;
\addplot[p=cB] coordinates {(0,1.97)(1,1.97)(1,2.99)(0,2.99)} --cycle;
\addplot[p=cG] coordinates {(0,2.99)(1,2.99)(1,3.95)(0,3.95)} --cycle;
\addplot[p=cY] coordinates {(0,3.95)(1,3.95)(1,4.97)(0,4.97)} --cycle;
\addplot[p=cA] coordinates {(0,4.97)(1,4.97)(1,5.98)(0,5.98)} --cycle;
\addplot[p=cO] coordinates {(0,5.98)(1,5.98)(1,6.96)(0,6.96)} --cycle;
\addplot[p=cR] coordinates {(0,6.96)(1,6.96)(1,7.98)(0,7.98)} --cycle;
\addplot[p=cE] coordinates {(0,7.98)(1,7.98)(1,8.99)(0,8.99)} --cycle;
\addplot[p=cD] coordinates {(0,8.99)(1,8.99)(1,9.96)(0,9.96)} --cycle;
\addplot[p=cK] coordinates {(0,9.96)(1,9.96)(1,10.99)(0,10.99)} --cycle;
\addplot[p=cL] coordinates {(0,10.99)(1,10.99)(1,12.04)(0,12.04)} --cycle;
\addplot[p=cM] coordinates {(0,12.04)(1,12.04)(1,13)(0,13)} --cycle;
\end{axis}
\end{tikzpicture}
\end{document}
